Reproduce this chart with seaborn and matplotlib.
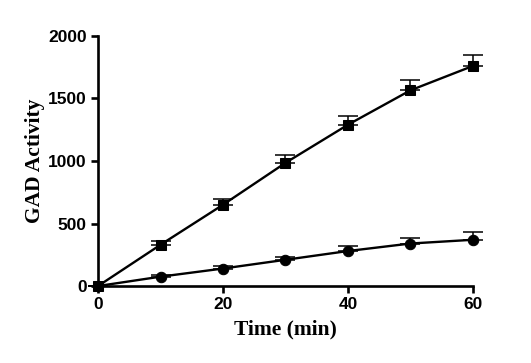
import numpy as np
import pandas as pd
import matplotlib
matplotlib.use("Agg")
import matplotlib.pyplot as plt
import seaborn as sns

time_min = [0, 10, 20, 30, 40, 50, 60]
squares = [0, 330, 650, 985, 1290, 1565, 1760]
squares_err = [0, 30, 50, 60, 70, 80, 85]
circles = [0, 75, 140, 210, 280, 340, 370]
circles_err = [0, 15, 20, 25, 40, 42, 62]

sns.set_style("ticks")
fig = plt.figure(figsize=(5.31, 3.63), dpi=100)
ax = fig.add_axes([0.1846, 0.212, 0.706, 0.689])

for y, e in [(squares, squares_err), (circles, circles_err)]:
    ax.errorbar(time_min, y, yerr=[np.zeros(len(e)), e], fmt="none",
                ecolor="black", elinewidth=1.1, capsize=7, capthick=1.1, zorder=1)

df = pd.DataFrame({"t": time_min * 2,
                   "v": squares + circles,
                   "s": ["sq"] * 7 + ["ci"] * 7})
sns.lineplot(data=df, x="t", y="v", style="s", markers={"sq": "s", "ci": "o"},
             dashes=False, color="black", lw=1.7, markersize=7.5,
             markeredgecolor="black", legend=False, ax=ax, zorder=3)

ax.set_xlim(0, 60)
ax.set_ylim(0, 2000)
ax.set_xticks([0, 20, 40, 60])
ax.set_yticks([0, 500, 1000, 1500, 2000])
sns.despine(ax=ax)
for sp in ["left", "bottom"]:
    ax.spines[sp].set_linewidth(1.9)
    ax.spines[sp].set_color("black")
ax.tick_params(width=1.9, length=5, color="black", labelcolor="black", labelsize=12.5, pad=3)
for lab in ax.get_xticklabels() + ax.get_yticklabels():
    lab.set_fontfamily("Liberation Sans")
    lab.set_fontweight("bold")
ax.set_xlabel("Time (min)", family="Liberation Serif", weight="bold", fontsize=15.5,
              labelpad=5, color="black")
ax.set_ylabel("GAD Activity", family="Liberation Serif", weight="bold", fontsize=15.5,
              labelpad=2, color="black")
for a in [ax.lines, ax.collections]:
    for art in a:
        art.set_clip_on(False)

fig.savefig("out.png", dpi=100)
